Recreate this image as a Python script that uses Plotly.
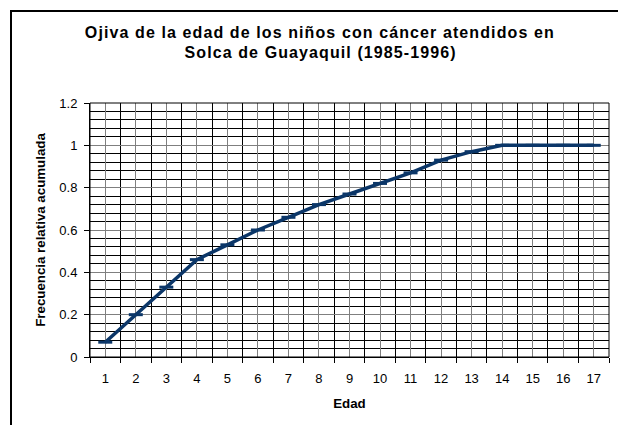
import plotly.graph_objects as go

edades = list(range(1, 18))
frecuencia_acum = [0.07, 0.20, 0.33, 0.46, 0.53, 0.60, 0.66, 0.72, 0.77, 0.82,
                   0.87, 0.93, 0.97, 1.0, 1.0, 1.0, 1.0]
y_ticks = [0, 0.2, 0.4, 0.6, 0.8, 1.0, 1.2]
y_tick_text = ["0", "0.2", "0.4", "0.6", "0.8", "1", "1.2"]

W, H = 618, 425
L, R, T, B = 90, 9, 103, 68
pw, ph = W - L - R, H - T - B

def px(x):
    return (x - L) / pw

def py(y):
    return (H - B - y) / ph

navy = "#0B3668"
font = "Liberation Sans, Arial, sans-serif"

fig = go.Figure()
fig.add_trace(go.Scatter(
    x=edades, y=frecuencia_acum, mode="lines+markers",
    line=dict(color=navy, width=3.5),
    marker=dict(symbol="line-ew", size=10, line=dict(color=navy, width=3)),
    hoverinfo="skip", showlegend=False,
))

fig.update_layout(
    width=W, height=H,
    margin=dict(l=L, r=R, t=T, b=B, pad=0),
    paper_bgcolor="white", plot_bgcolor="white",
    font=dict(family=font, size=13, color="black"),
    xaxis=dict(
        range=[0.5, 17.5], tickmode="array", tickvals=edades,
        ticktext=[str(e) for e in edades], ticks="",
        showgrid=True, gridcolor="#7f7f7f", gridwidth=1,
        showline=True, linecolor="black", linewidth=1,
        zeroline=False, ticklabelstandoff=9,
        minor=dict(tick0=0.5, dtick=1, showgrid=True, gridcolor="black",
                   gridwidth=1, ticks="outside", ticklen=5, tickcolor="black"),
        title=dict(text="<b>Edad</b>", font=dict(size=13.3), standoff=14),
        fixedrange=True,
    ),
    yaxis=dict(
        range=[0, 1.2], tickmode="array", tickvals=y_ticks, ticktext=y_tick_text,
        ticks="outside", ticklen=5, tickcolor="black",
        showgrid=True, gridcolor="#7f7f7f", gridwidth=1,
        showline=True, linecolor="black", linewidth=1,
        zeroline=False, ticklabelstandoff=4,
        minor=dict(tick0=0, dtick=0.04, showgrid=True, gridcolor="black", gridwidth=1),
        title=dict(text="<b>Frecuencia relativa acumulada</b>", font=dict(size=13.3), standoff=10),
        fixedrange=True,
    ),
    shapes=[
        dict(type="rect", xref="paper", yref="paper", x0=0, x1=1, y0=0, y1=1,
             line=dict(color="black", width=1), layer="above"),
        dict(type="line", xref="paper", yref="paper", x0=px(10), x1=px(618),
             y0=py(11), y1=py(11), line=dict(color="black", width=2)),
        dict(type="line", xref="paper", yref="paper", x0=px(11), x1=px(11),
             y0=py(10), y1=py(425), line=dict(color="black", width=2)),
    ],
    annotations=[
        dict(text="<b>Ojiva de la edad de los niños con cáncer atendidos en</b>",
             xref="paper", yref="paper", x=px(320), y=py(32), showarrow=False,
             xanchor="center", yanchor="middle", font=dict(size=16)),
        dict(text="<b>Solca de Guayaquil (1985-1996)</b>",
             xref="paper", yref="paper", x=px(320), y=py(53), showarrow=False,
             xanchor="center", yanchor="middle", font=dict(size=16)),
    ],
)

post = """
document.body.style.margin = '0';
document.querySelectorAll('.annotation-text').forEach(function(e){ e.style.letterSpacing = '1.1px'; });
"""

fig.write_html("out.html", post_script=post, config={"displayModeBar": False})
